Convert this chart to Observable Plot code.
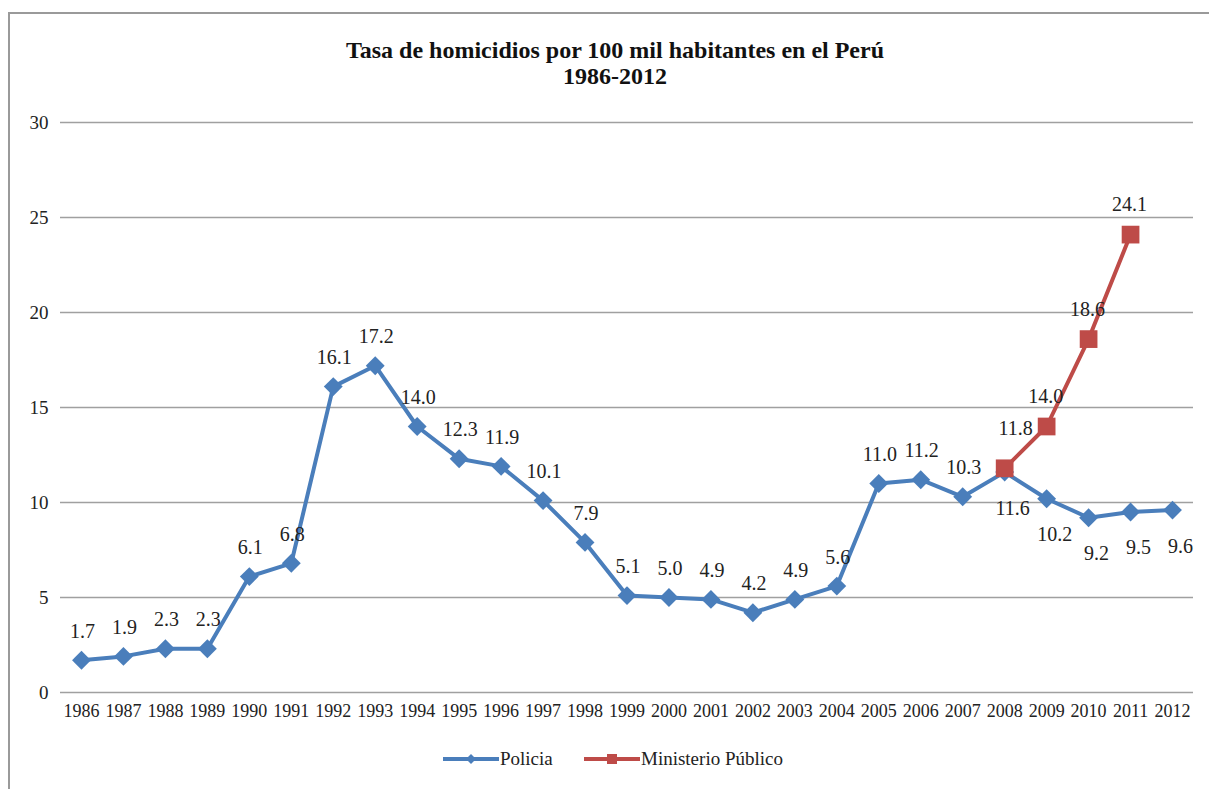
<!DOCTYPE html>
<html>
<head>
<meta charset="utf-8">
<script src="https://cdn.jsdelivr.net/npm/d3@7"></script>
<script src="https://cdn.jsdelivr.net/npm/@observablehq/plot@0.6"></script>
<style>
  html, body { margin: 0; padding: 0; background: #fff; }
  #wrap { position: relative; width: 1209px; height: 789px; overflow: hidden; font-family: "Liberation Serif", Tinos, "Times New Roman", "Nimbus Roman", "DejaVu Serif", serif; }
  #frame { position: absolute; left: 8px; top: 12px; right: -10px; bottom: -10px; border-top: 2px solid #9a9a9a; border-left: 2px solid #9a9a9a; }
  #title { position: absolute; left: 0; width: 1230px; top: 37px; text-align: center; font-weight: bold; font-size: 24px; line-height: 26px; color: #111; }
  #chart { position: absolute; left: 0; top: 0; }
  #legend { position: absolute; top: 745px; left: 0; width: 1209px; height: 28px; font-size: 19px; color: #222; }
  .item { position: absolute; top: 0; display: flex; align-items: center; height: 28px; }
  .item svg { display: block; }
</style>
</head>
<body>
<div id="wrap">
  <div id="frame"></div>
  <div id="chart"></div>
  <div id="title">Tasa de homicidios por 100 mil habitantes en el Perú<br>1986-2012</div>
  <div id="legend"></div>
</div>
<script>
const years = [1986,1987,1988,1989,1990,1991,1992,1993,1994,1995,1996,1997,1998,1999,2000,2001,2002,2003,2004,2005,2006,2007,2008,2009,2010,2011,2012];
const policia = [1.7,1.9,2.3,2.3,6.1,6.8,16.1,17.2,14.0,12.3,11.9,10.1,7.9,5.1,5.0,4.9,4.2,4.9,5.6,11.0,11.2,10.3,11.6,10.2,9.2,9.5,9.6];
const ministerioYears = [2008,2009,2010,2011];
const ministerio = [11.8,14.0,18.6,24.1];
const yTicks = [0,5,10,15,20,25,30];
const seriesNames = ["Policia", "Ministerio Público"];
const colors = ["#4a7ebb", "#be4b48"];

const pData = years.map((y, i) => ({year: y, value: policia[i]}));
const mData = ministerioYears.map((y, i) => ({year: y, value: ministerio[i]}));
const fmt = d => d.value.toFixed(1);
const font = "'Liberation Serif', Tinos, 'Times New Roman', 'Nimbus Roman', 'DejaVu Serif', serif";

const plot = Plot.plot({
  width: 1209,
  height: 740,
  marginTop: 122,
  marginBottom: 48,
  marginLeft: 60,
  marginRight: 16,
  style: {fontFamily: font, fontSize: "18px", color: "#222", background: "transparent", overflow: "visible"},
  x: {type: "point", domain: years, padding: 0.5, round: false, label: null},
  y: {domain: [0, 30], label: null},
  marks: [
    Plot.gridY(yTicks, {stroke: "#a0a0a0", strokeOpacity: 1, strokeWidth: 1.5}),
    Plot.axisY(yTicks, {tickSize: 0, tickPadding: 12, fontSize: 19, fontFamily: font, label: null}),
    Plot.axisX(years, {tickSize: 0, tickPadding: 12, fontSize: 18, fontFamily: font, tickFormat: d => String(d), label: null}),
    Plot.line(pData, {x: "year", y: "value", stroke: colors[0], strokeWidth: 4}),
    Plot.dot(pData, {x: "year", y: "value", symbol: "diamond2", r: 8.5, fill: colors[0]}),
    Plot.line(mData, {x: "year", y: "value", stroke: colors[1], strokeWidth: 4}),
    Plot.dot(mData, {x: "year", y: "value", symbol: "square", r: 10, fill: colors[1]}),
    Plot.text(pData.filter(d => d.year <= 2007), {x: "year", y: "value", text: fmt, dy: -29, dx: 1, fontSize: 20, fontFamily: font, fill: "#222"}),
    Plot.text(pData.filter(d => d.year >= 2008), {x: "year", y: "value", text: fmt, dy: 36, dx: 8, fontSize: 20, fontFamily: font, fill: "#222"}),
    Plot.text(mData.filter(d => d.year === 2008), {x: "year", y: "value", text: fmt, dy: -40, dx: 11, fontSize: 20, fontFamily: font, fill: "#222"}),
    Plot.text(mData.filter(d => d.year > 2008), {x: "year", y: "value", text: fmt, dy: -30, dx: -1, fontSize: 20, fontFamily: font, fill: "#222"})
  ]
});
document.getElementById("chart").appendChild(plot);

// legend
const legend = document.getElementById("legend");
const lefts = [443, 584];
seriesNames.forEach((name, i) => {
  const item = document.createElement("div");
  item.className = "item";
  item.style.left = lefts[i] + "px";
  const marker = i === 0
    ? `<path d="M28,9 L33,14 L28,19 L23,14 Z" fill="${colors[i]}"/>`
    : `<rect x="23" y="9" width="10" height="10" fill="${colors[i]}"/>`;
  item.innerHTML = `<svg width="56" height="28"><line x1="0" x2="56" y1="14" y2="14" stroke="${colors[i]}" stroke-width="4"/>${marker}</svg><span style="margin-left:1px">${name}</span>`;
  legend.appendChild(item);
});
</script>
</body>
</html>
